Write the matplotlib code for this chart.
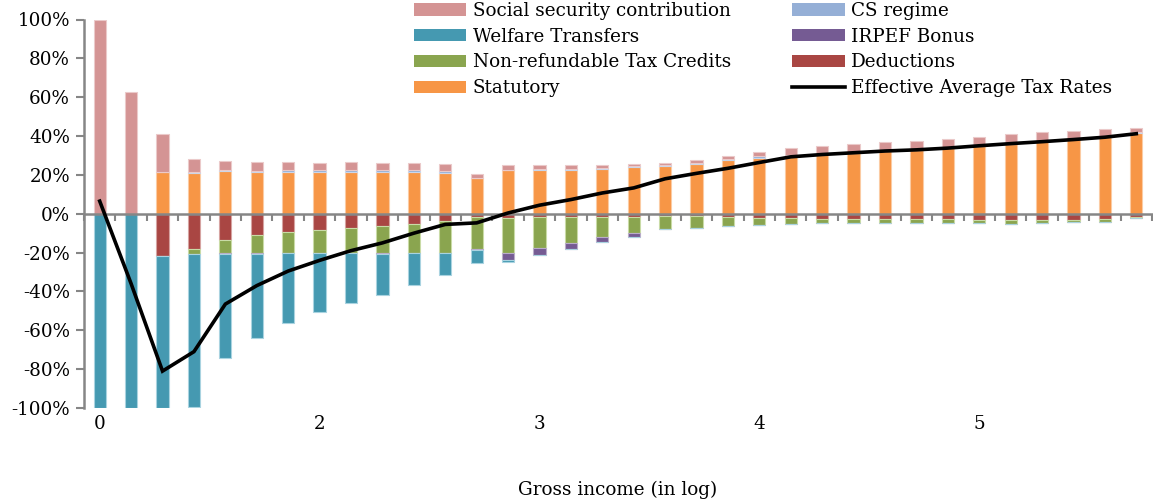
import numpy as np
import matplotlib
matplotlib.use("Agg")
import matplotlib.pyplot as plt
from matplotlib.patches import Patch
from matplotlib.lines import Line2D
from matplotlib.ticker import FuncFormatter, MultipleLocator, FixedLocator
from matplotlib.transforms import blended_transform_factory

# Category labels along the income axis (log of gross income)
categories = ["0", "", "", "", "", "", "",
              "2", "", "", "", "", "", "",
              "3", "", "", "", "", "", "",
              "4", "", "", "", "", "", "",
              "5", "", "", "", "", ""]

# Positive components (% of gross income)
statutory = [0.0, 0.0, 21.7, 21.1, 21.9, 21.7, 21.7, 21.7, 21.7, 21.7, 21.4, 21.2,
             18.3, 22.4, 22.4, 22.6, 22.9, 24.0, 24.5, 25.4, 27.5, 28.7, 29.7, 30.7,
             31.4, 32.1, 32.9, 33.8, 34.8, 35.8, 37.2, 38.6, 39.7, 41.6]
cs_regime = [0.0, 0.0, 0.0, 0.3, 0.4, 0.5, 1.0, 1.0, 0.7, 0.8, 1.0, 1.0,
             0.3, 0.3, 0.5, 0.5, 0.4, 0.5, 0.7, 0.9, 0.7, 0.9, 0.6, 0.3,
             0.2, 0.2, 0.1, 0.1, 0.1, 0.1, 0.1, 0.1, 0.1, 0.3]
social_security = [100.0, 62.5, 19.4, 6.9, 4.9, 4.3, 3.7, 3.5, 4.0, 3.7, 3.6, 3.3,
                   1.8, 2.3, 2.1, 1.9, 1.7, 0.9, 0.8, 1.2, 1.3, 2.1, 3.5, 3.8,
                   4.2, 4.4, 4.4, 4.4, 4.8, 5.0, 4.6, 4.1, 3.7, 2.1]

# Negative components (% of gross income)
deductions = [0.0, 0.0, -21.6, -18.0, -13.4, -10.8, -9.4, -8.2, -7.2, -6.2, -5.1, -3.9,
              -1.9, -2.3, -1.8, -1.5, -1.5, -1.5, -1.0, -1.0, -1.5, -2.0, -2.2, -2.6,
              -2.7, -2.7, -2.7, -2.7, -3.3, -3.3, -3.3, -3.3, -2.7, -1.5]
tax_credits = [0.0, 0.0, 0.0, -2.6, -6.9, -9.3, -10.6, -11.8, -12.9, -14.0, -14.9, -16.1,
               -16.0, -17.7, -15.9, -13.5, -10.4, -8.6, -7.0, -6.2, -4.8, -3.6, -2.9, -2.2,
               -2.1, -1.9, -1.9, -1.9, -1.7, -1.9, -1.5, -1.2, -1.4, -0.9]
irpef_bonus = [0.0, 0.0, 0.0, 0.0, -0.3, -0.4, -0.4, -0.4, -0.3, -0.4, -0.4, -0.4,
               -1.0, -3.8, -3.3, -2.9, -2.6, -2.1, 0.0, 0.0, 0.0, 0.0, 0.0, 0.0,
               0.0, 0.0, 0.0, 0.0, 0.0, 0.0, 0.0, 0.0, 0.0, 0.0]
welfare = [-100.0, -100.0, -78.4, -78.9, -53.7, -43.4, -35.8, -30.0, -25.3, -21.0, -16.3, -11.3,
           -6.3, -1.0, 0.0, 0.0, 0.0, 0.0, 0.0, 0.0, 0.0, 0.0, 0.0, 0.0,
           0.0, 0.0, 0.0, 0.0, 0.0, 0.0, 0.0, 0.0, 0.0, 0.0]

# Effective average tax rate (%)
eatr = [6.5, -36.0, -81.0, -71.0, -46.5, -37.0, -29.5, -24.0, -19.0, -15.0, -10.0, -5.5,
        -4.7, 0.4, 4.4, 7.3, 10.7, 13.3, 18.0, 20.8, 23.4, 26.4, 29.3, 30.5,
        31.4, 32.3, 32.9, 33.8, 35.0, 36.1, 37.1, 38.2, 39.4, 41.2]

colors = {
    "ssc": "#D49494",
    "welfare": "#4599B1",
    "credits": "#8AA54F",
    "statutory": "#F79646",
    "cs": "#95AFD6",
    "bonus": "#755B93",
    "deductions": "#A94643",
}
edges = {
    "ssc": "#EBCACA",
    "welfare": "#A9D3E0",
    "credits": "#C9DBA6",
    "statutory": "#FBCBA3",
    "cs": "#CAD7EB",
    "bonus": "#B9ACC9",
    "deductions": "#D6A3A1",
}

plt.rcParams["font.family"] = ["DejaVu Serif"]
axis_grey = "#868686"

fig = plt.figure(figsize=(11.53, 5.03), dpi=100)
ax = fig.add_axes([84 / 1153, 95 / 503, 1068 / 1153, 388.5 / 503])

x = np.arange(len(categories))
w = 0.39

def stack(series, keys):
    base = np.zeros(len(x))
    for vals, key in zip(series, keys):
        v = np.asarray(vals, dtype=float)
        ax.bar(x, v, w, bottom=base, color=colors[key], edgecolor=edges[key],
               linewidth=0.8, zorder=2)
        base = base + v

stack([statutory, cs_regime, social_security], ["statutory", "cs", "ssc"])
stack([deductions, tax_credits, irpef_bonus, welfare],
      ["deductions", "credits", "bonus", "welfare"])

ax.plot(x, eatr, color="black", lw=2.6, zorder=4, solid_joinstyle="miter")

ax.set_xlim(-0.5, len(categories) - 0.5)
ax.set_ylim(-100, 100)

# y axis
ax.yaxis.set_major_locator(MultipleLocator(20))
ax.yaxis.set_major_formatter(FuncFormatter(lambda v, p: f"{v:.0f}%"))
ax.tick_params(axis="y", direction="out", length=6, width=1.5, color=axis_grey,
               labelsize=13.2, pad=4)

# x axis drawn through zero with category boundary ticks
ax.spines["bottom"].set_position(("data", 0))
ax.xaxis.set_major_locator(FixedLocator(np.arange(-0.5, len(categories), 1.0)))
ax.tick_params(axis="x", direction="out", length=5, width=1.5, color=axis_grey,
               labelbottom=False)
for side in ("top", "right"):
    ax.spines[side].set_visible(False)
for side in ("left", "bottom"):
    ax.spines[side].set_color(axis_grey)
    ax.spines[side].set_linewidth(1.8)
ax.spines["bottom"].set_zorder(3)

# category labels below the plot area
trans = blended_transform_factory(ax.transData, ax.transAxes)
for i, lab in enumerate(categories):
    if lab:
        ax.text(i, -0.042, lab, transform=trans, ha="center", va="center",
                fontsize=13.2)

ax.set_xlabel("Gross income (in log)", fontsize=13.2)
ax.xaxis.set_label_coords(0.5, -0.211)
ax.xaxis.label.set_verticalalignment("center")

handles = [
    Patch(facecolor=colors["ssc"], label="Social security contribution"),
    Patch(facecolor=colors["welfare"], label="Welfare Transfers"),
    Patch(facecolor=colors["credits"], label="Non-refundable Tax Credits"),
    Patch(facecolor=colors["statutory"], label="Statutory"),
    Patch(facecolor=colors["cs"], label="CS regime"),
    Patch(facecolor=colors["bonus"], label="IRPEF Bonus"),
    Patch(facecolor=colors["deductions"], label="Deductions"),
    Line2D([], [], color="black", lw=2.6, label="Effective Average Tax Rates"),
]
fig.legend(handles=handles, ncol=2, loc="upper left",
           bbox_to_anchor=(414 / 1153, 1.0 - 2 / 503), bbox_transform=fig.transFigure,
           frameon=False, fontsize=13.2, handlelength=2.85, handleheight=0.65,
           handletextpad=0.35, columnspacing=3.35, labelspacing=0.42,
           borderpad=0, borderaxespad=0)

fig.savefig("out.png", dpi=100)
